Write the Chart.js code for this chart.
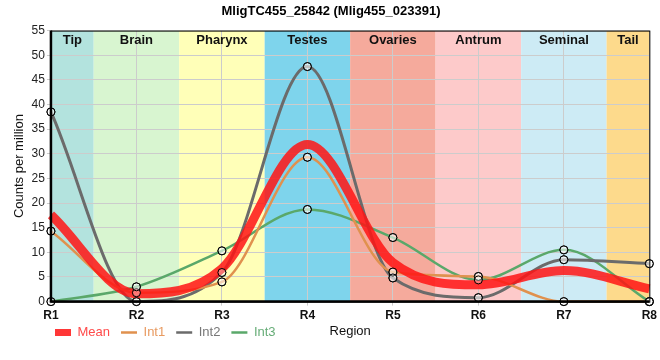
<!DOCTYPE html>
<html>
<head>
<meta charset="utf-8">
<script src="https://cdn.jsdelivr.net/npm/chart.js@4"></script>
<style>
  html, body { margin: 0; padding: 0; background: #fff; }
  #wrap { width: 660px; height: 360px; }
</style>
</head>
<body>
<div id="wrap"><canvas id="chart" width="660" height="360"></canvas></div>
<script>
// data
const regions = ['R1', 'R2', 'R3', 'R4', 'R5', 'R6', 'R7', 'R8'];
const tissues = ['Tip', 'Brain', 'Pharynx', 'Testes', 'Ovaries', 'Antrum', 'Seminal', 'Tail'];
const tissueColors = ['#b3e3de', '#d8f5d0', '#ffffb8', '#7ed4ec', '#f5aa9c', '#fdcaca', '#cdebf5', '#fdda8c'];
const meanValues = [17.6, 1.6, 6.7, 31.9, 7.9, 3.4, 6.3, 2.6];
const int1Values = [14.3, 1.8, 4.0, 29.3, 6.0, 5.1, 0, 0];
const int2Values = [38.5, 0, 5.9, 47.7, 4.8, 0.8, 8.5, 7.7];
const int3Values = [0, 3.0, 10.3, 18.7, 13.0, 4.4, 10.5, 0];
const yTicks = [0, 5, 10, 15, 20, 25, 30, 35, 40, 45, 50, 55];

const font = "'Liberation Sans', Arial, sans-serif";

// coloured tissue bands behind the grid, with their names on top
const bandsPlugin = {
    id: 'bands',
    afterLayout(chart) {
        // legend shares its row with the x axis title, a bit right of the edge
        const lg = chart.legend;
        lg.top -= 11; lg.bottom -= 11;
        lg.left += 32; lg.right += 32;
    },
    beforeDraw(chart) {
        const ctx = chart.ctx;
        const area = chart.chartArea;
        const x = chart.scales.x;
        ctx.save();
        tissues.forEach((name, i) => {
            let left = Math.max(x.getPixelForValue(i - 0.5), area.left);
            let right = Math.min(x.getPixelForValue(i + 0.5), area.right);
            ctx.fillStyle = tissueColors[i];
            ctx.fillRect(left, area.top, right - left, area.bottom - area.top);
        });
        ctx.restore();
    },
    afterDraw(chart) {
        const ctx = chart.ctx;
        const area = chart.chartArea;
        const x = chart.scales.x;
        ctx.save();
        ctx.font = 'bold 13px ' + font;
        ctx.fillStyle = '#111';
        ctx.textAlign = 'center';
        ctx.textBaseline = 'middle';
        tissues.forEach((name, i) => {
            let left = Math.max(x.getPixelForValue(i - 0.5), area.left);
            let right = Math.min(x.getPixelForValue(i + 0.5), area.right);
            ctx.fillText(name, (left + right) / 2, area.top + 10);
        });
        // frame: thin top/right, thick left/bottom
        ctx.strokeStyle = '#000';
        ctx.lineWidth = 1;
        ctx.strokeRect(area.left + 0.5, area.top + 0.5, area.right - area.left, area.bottom - area.top);
        ctx.lineWidth = 2.5;
        ctx.beginPath();
        ctx.moveTo(area.left, area.top);
        ctx.lineTo(area.left, area.bottom);
        ctx.lineTo(area.right, area.bottom);
        ctx.stroke();
        // x axis title sits on the legend row
        ctx.font = '13px ' + font;
        ctx.fillStyle = '#111';
        ctx.fillText('Region', (area.left + area.right) / 2, 331);
        ctx.restore();
    },
    afterDatasetsDraw(chart) {
        // redraw the data points above the thick mean line
        chart.data.datasets.forEach((ds, i) => {
            if (ds.pointRadius > 0) {
                chart.getDatasetMeta(i).data.forEach(p => p.draw(chart.ctx, chart.chartArea));
            }
        });
    }
};

function lineSet(label, data, color, width, radius) {
    return {
        label: label,
        data: data,
        borderColor: color,
        backgroundColor: color,
        borderWidth: width,
        cubicInterpolationMode: 'monotone',
        pointRadius: radius,
        pointBorderColor: '#000',
        pointBorderWidth: 1,
        pointBackgroundColor: 'rgba(255,255,255,0.35)',
        fill: false,
        clip: 8
    };
}

const legendTextColors = ['#ff4a4a', '#e89a60', '#777777', '#67ad78'];

new Chart(document.getElementById('chart'), {
    type: 'line',
    data: {
        labels: regions,
        datasets: [
            lineSet('Mean', meanValues, 'rgba(255, 20, 20, 0.85)', 9, 0),
            lineSet('Int1', int1Values, '#e0914e', 2.5, 4),
            lineSet('Int2', int2Values, '#6b6b6b', 3, 4),
            lineSet('Int3', int3Values, '#5aa86a', 2.5, 4)
        ]
    },
    options: {
        responsive: false,
        animation: false,
        layout: { padding: { left: 12, right: 10, top: 0, bottom: 0 } },
        plugins: {
            title: {
                display: true,
                text: 'MligTC455_25842 (Mlig455_023391)',
                color: '#000',
                font: { family: font, size: 13, weight: 'bold' },
                padding: { top: 4, bottom: 11 }
            },
            legend: {
                position: 'bottom',
                align: 'start',
                labels: {
                    usePointStyle: true,
                    pointStyleWidth: 16,
                    boxHeight: 7,
                    padding: 11,
                    font: { family: font, size: 13 },
                    generateLabels(chart) {
                        return chart.data.datasets.map((ds, i) => ({
                            text: ds.label,
                            fillStyle: ds.borderColor,
                            strokeStyle: ds.borderColor,
                            lineWidth: i === 0 ? 7 : 2.5,
                            pointStyle: 'line',
                            fontColor: legendTextColors[i],
                            hidden: false,
                            datasetIndex: i
                        }));
                    }
                }
            },
            tooltip: { enabled: false }
        },
        scales: {
            x: {
                offset: false,
                grid: { color: '#cccccc', drawTicks: true, tickLength: 4 },
                border: { display: false },
                ticks: { color: '#111', font: { family: font, size: 12, weight: 'bold' }, padding: 3 }
            },
            y: {
                min: 0,
                max: 55,
                afterBuildTicks(scale) {
                    scale.ticks = yTicks.map(v => ({ value: v }));
                },
                grid: { color: '#cccccc', tickLength: 4 },
                border: { display: false },
                ticks: { color: '#222', font: { family: font, size: 12 }, padding: 2 },
                title: {
                    display: true,
                    text: 'Counts per million',
                    color: '#111',
                    font: { family: font, size: 13 },
                    padding: { top: 0, bottom: 2 }
                }
            }
        }
    },
    plugins: [bandsPlugin]
});
</script>
</body>
</html>
